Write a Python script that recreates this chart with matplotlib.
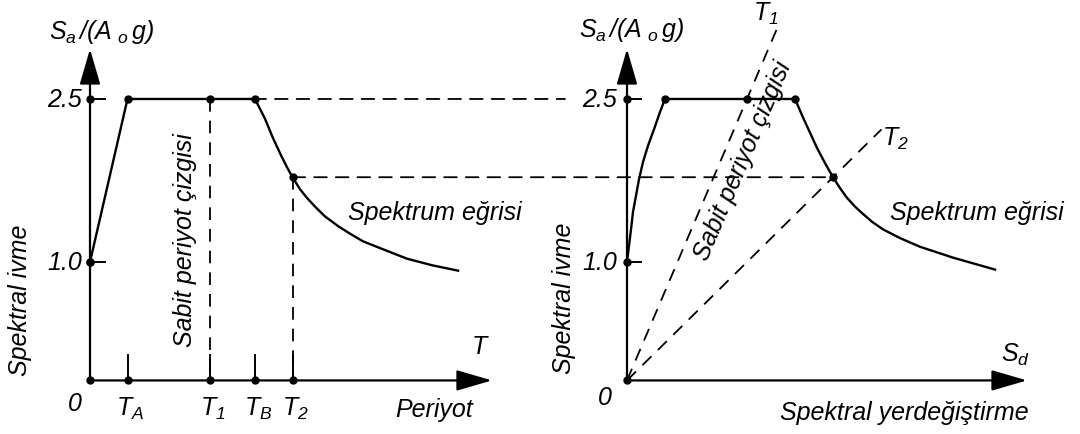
import math
import matplotlib
matplotlib.use('Agg')
import matplotlib.pyplot as plt
from matplotlib.patches import ConnectionPatch

plt.rcParams['font.family'] = 'Liberation Sans'
plt.rcParams['font.style'] = 'italic'
plt.rcParams['mathtext.fontset'] = 'custom'
plt.rcParams['mathtext.it'] = 'Liberation Sans:italic'
plt.rcParams['mathtext.rm'] = 'Liberation Sans:italic'

# periods and spectral ordinates (Sa / (Ao g))
T_A, T_1, T_B, T_2 = 0.125, 0.40, 0.55, 0.675
SA_MAX, SA_0, SA_2 = 2.5, 1.0, 1.78

# acceleration spectrum, Sa vs T
period = [0.0, T_A, T_1, T_B, 0.583, 0.610, 0.637, 0.657, T_2, 0.700, 0.723,
          0.750, 0.783, 0.827, 0.867, 0.910, 0.983, 1.057, 1.140, 1.227]
sa_t = [SA_0, SA_MAX, SA_MAX, SA_MAX, 2.32, 2.14, 1.98, 1.87, SA_2, 1.67, 1.59,
        1.51, 1.42, 1.33, 1.26, 1.19, 1.11, 1.03, 0.97, 0.92]

# same spectrum in Sa - Sd format
SD_A, SD_1, SD_B, SD_2 = 0.095, 0.30, 0.42, 0.515
disp = [0.0, 0.005, 0.010, 0.015, 0.0225, 0.030, 0.040, 0.0525, 0.0675, 0.0825, SD_A,
        SD_1, SD_B, 0.44, 0.4575, 0.475, 0.495, SD_2, 0.5325, 0.55, 0.57, 0.5875,
        0.6125, 0.64, 0.6825, 0.7325, 0.815, 0.92]
sa_d = [SA_0, 1.15, 1.30, 1.46, 1.61, 1.76, 1.92, 2.07, 2.22, 2.38, SA_MAX,
        SA_MAX, SA_MAX, 2.33, 2.19, 2.05, 1.91, SA_2, 1.68, 1.59, 1.51, 1.45,
        1.37, 1.30, 1.22, 1.14, 1.04, 0.93]

t_ticks = [T_A, T_1, T_B, T_2]
t_labels = [r'$T_A$', r'$T_1$', r'$T_B$', r'$T_2$']
y_ticks = [SA_MAX, SA_0]
y_labels = ['2.5', '1.0']
ray_points = [(SD_1, SA_MAX), (SD_2, SA_2)]
ray_tops = [3.14, 2.22]
ray_labels = [r'$T_1$', r'$T_2$']

BASE = -0.09          # level where the horizontal axes are drawn
FS = 18
LW = 1.7
DASH = (0, (7, 5))

fig = plt.figure(figsize=(10.8, 4.35), dpi=100)
axL = fig.add_axes([0, 0, 0.5, 1])
axR = fig.add_axes([0.5, 0, 0.5, 1])
axL.set_xlim(-0.3, 1.5)
axR.set_xlim(-0.2175, 1.1325)
for ax in (axL, axR):
    ax.set_ylim(-0.583, 3.42)
    ax.axis('off')


def arrow(ax, tip):
    ax.annotate('', xy=tip, xytext=(0, BASE),
                arrowprops=dict(arrowstyle='-|>,head_length=1.1,head_width=0.32',
                                color='k', lw=1.6, shrinkA=0, shrinkB=0,
                                mutation_scale=20))


def dot(ax, x, y):
    ax.plot(x, y, 'o', color='k', ms=5, zorder=5)


# ---- left: Sa - T ----
arrow(axL, (0, 2.96))
arrow(axL, (1.34, BASE))
axL.plot(period, sa_t, color='k', lw=LW)
dot(axL, [0, T_A, T_1, T_B, T_2], [SA_0, SA_MAX, SA_MAX, SA_MAX, SA_2])
dot(axL, [0] + t_ticks, [BASE] * 5)
for t, lab in zip(t_ticks, t_labels):
    axL.plot([t, t], [BASE, BASE + 0.23], color='k', lw=1.4)
    axL.text(t + 0.01, -0.224, lab, fontsize=FS, ha='center', va='top')
for v, lab in zip(y_ticks, y_labels):
    dot(axL, 0, v)
    axL.plot([0, 0.05], [v, v], color='k', lw=1.4)
    axL.text(-0.027, v, lab, fontsize=FS, ha='right', va='center')
axL.plot([T_1, T_1], [SA_MAX, BASE], color='k', lw=1.3, ls=DASH)
axL.plot([T_2, T_2], [SA_2, BASE], color='k', lw=1.3, ls=DASH)

axL.text(0.04, 3.13, r'$S_a\,/(A\;{}_o\,g)$', fontsize=FS, ha='center', va='center')
axL.text(-0.233, 0.66, 'Spektral ivme', fontsize=FS, rotation=90, ha='center', va='center')
axL.text(0.317, 1.21, 'Sabit periyot çizgisi', fontsize=FS, rotation=90, ha='center', va='center')
axL.text(0.86, 1.46, 'Spektrum eğrisi', fontsize=FS, ha='left', va='center')
axL.text(1.30, 0.227, r'$T$', fontsize=FS, ha='center', va='center')
axL.text(-0.05, -0.30, '0', fontsize=FS, ha='center', va='center')
axL.text(1.147, -0.242, 'Periyot', fontsize=FS, ha='center', va='top')

# ---- right: Sa - Sd ----
arrow(axR, (0, 2.96))
arrow(axR, (1.0, BASE))
axR.plot(disp, sa_d, color='k', lw=LW)
dot(axR, [SD_A, SD_1, SD_B, SD_2], [SA_MAX, SA_MAX, SA_MAX, SA_2])
dot(axR, 0, BASE)
for v, lab in zip(y_ticks, y_labels):
    dot(axR, 0, v)
    axR.plot([0, 0.035], [v, v], color='k', lw=1.4)
    axR.text(-0.025, v, lab, fontsize=FS, ha='right', va='center')

# constant period lines through the origin
for (sd, sa), top, lab, off in zip(ray_points, ray_tops, ray_labels, [(-8, 12), (10, -6)]):
    sd_top = sd * (top - BASE) / (sa - BASE)
    axR.plot([0, sd_top], [BASE, top], color='k', lw=1.3, ls=DASH)
    axR.annotate(lab, xy=(sd_top, top), xytext=off, textcoords='offset points',
                 fontsize=FS, ha='center', va='center')

p0 = axR.transData.transform((0, BASE))
p1 = axR.transData.transform(ray_points[0])
ang = math.degrees(math.atan2(p1[1] - p0[1], p1[0] - p0[0]))
axR.text(0.29, 1.94, 'Sabit periyot çizgisi', fontsize=FS, rotation=ang,
         rotation_mode='anchor', ha='center', va='center')

axR.text(0.0125, 3.14, r'$S_a\,/(A\;{}_o\,g)$', fontsize=FS, ha='center', va='center')
axR.text(-0.1575, 0.678, 'Spektral ivme', fontsize=FS, rotation=90, ha='center', va='center')
axR.text(0.6575, 1.46, 'Spektrum eğrisi', fontsize=FS, ha='left', va='center')
axR.text(0.97, 0.153, r'$S_d$', fontsize=FS, ha='center', va='center')
axR.text(-0.055, -0.242, '0', fontsize=FS, ha='center', va='center')
axR.text(0.3825, -0.38, 'Spektral yerdeğiştirme', fontsize=FS, ha='left', va='center')

# projections from the Sa - T curve onto the Sa - Sd curve
for a, b in [((T_1, SA_MAX), (-0.155, SA_MAX)), ((T_2, SA_2), (SD_2, SA_2))]:
    con = ConnectionPatch(xyA=a, coordsA=axL.transData, xyB=b, coordsB=axR.transData,
                          color='k', lw=1.3, ls=DASH)
    fig.add_artist(con)

fig.savefig('out.png', dpi=100)
